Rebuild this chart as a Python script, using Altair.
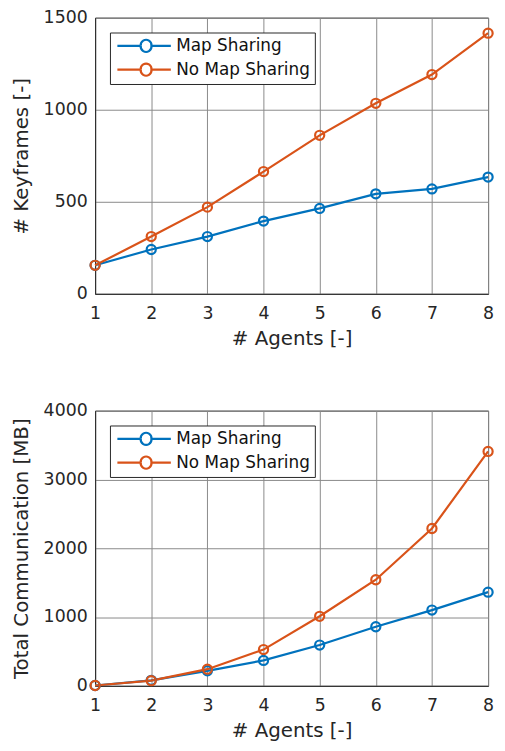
import altair as alt
import pandas as pd

agents = [1, 2, 3, 4, 5, 6, 7, 8]
series_names = ["Map Sharing", "No Map Sharing"]
kf_map = [155, 241, 311, 395, 464, 543, 570, 634]
kf_nomap = [155, 311, 471, 664, 861, 1035, 1191, 1416]
comm_map = [5, 80, 218, 370, 593, 859, 1101, 1362]
comm_nomap = [5, 75, 242, 527, 1011, 1542, 2287, 3407]
colors = ["#0072BD", "#D95319"]

def frame(a, b, col):
    rows = []
    for i, x in enumerate(agents):
        rows.append({"agents": x, "series": series_names[0], col: a[i]})
        rows.append({"agents": x, "series": series_names[1], col: b[i]})
    return pd.DataFrame(rows)

df1 = frame(kf_map, kf_nomap, "value")
df2 = frame(comm_map, comm_nomap, "value")

FONT = "DejaVu Sans"
# legend glyph: line with an open circle; unit = sqrt(symbolSize)/2 = 8 px
legend_path = ("M-0.75,0L2.2,0M3.55,0L6,0"
               "M2.2,0A0.68,0.68 0 1,1 3.55,0A0.68,0.68 0 1,1 2.2,0")

def panel(df, ymax, ystep, ytitle, h):
    color = alt.Color(
        "series:N",
        scale=alt.Scale(domain=series_names, range=colors),
        legend=alt.Legend(
            title=None, orient="none", legendX=15, legendY=15,
            symbolType=legend_path, symbolSize=256, symbolStrokeWidth=2.2,
            symbolFillColor="transparent",
            labelFont=FONT, labelFontSize=17, labelColor="#111",
            strokeColor="#262626", fillColor="white", padding=4,
            rowPadding=3, labelOffset=44, labelLimit=300,
        ),
    )
    x = alt.X("agents:Q", scale=alt.Scale(domain=[1, 8], nice=False),
              axis=alt.Axis(title="# Agents [-]", values=agents, format="d"))
    y = alt.Y("value:Q", scale=alt.Scale(domain=[0, ymax], nice=False),
              axis=alt.Axis(title=ytitle, values=list(range(0, ymax + 1, ystep)), format="d"))
    base = alt.Chart(df).encode(x=x, y=y, color=color)
    line = base.mark_line(strokeWidth=2.2)
    pts = base.mark_point(filled=False, size=85, strokeWidth=2.2, opacity=1)
    return alt.layer(line, pts).properties(width=397, height=h)

top = panel(df1, 1500, 500, "# Keyframes [-]", 279)
bottom = panel(df2, 4000, 1000, "Total Communication [MB]", 278)

chart = alt.vconcat(top, bottom, spacing=52).resolve_legend(color="independent").properties(
    padding={"top": -4, "left": 2, "right": -1, "bottom": 0}
).configure_view(
    stroke="#262626", strokeWidth=1
).configure_axis(
    labelFont=FONT, titleFont=FONT, labelFontSize=17.5, titleFontSize=20,
    labelColor="#262626", titleColor="#262626", titleFontWeight="normal",
    grid=True, gridColor="#8a8a8a", gridWidth=1, gridOpacity=1,
    domainColor="#262626", ticks=False, labelFlush=False,
).configure_axisY(titlePadding=12, labelPadding=8).configure_axisX(titlePadding=6.5, labelPadding=11)

chart.save("out.html", embed_options={"renderer": "svg", "actions": False})
